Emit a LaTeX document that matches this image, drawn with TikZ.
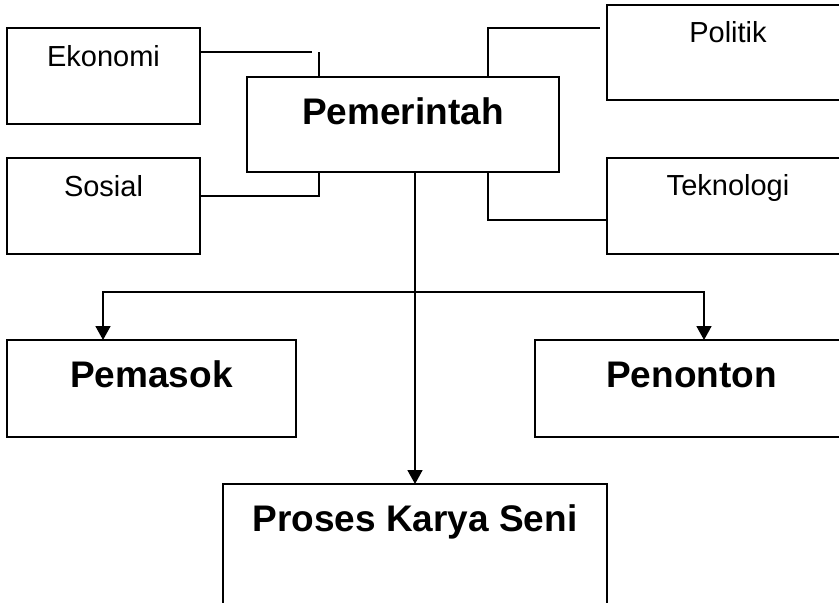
\documentclass[tikz,border=0pt]{standalone}
\usepackage{fontspec}
\setmainfont{Liberation Sans}
\usetikzlibrary{arrows.meta}
\begin{document}
\begin{tikzpicture}[x=1pt,y=-1pt,
  box/.style={draw=black,line width=1.8pt,rectangle,inner sep=0pt,outer sep=0pt,anchor=north west},
  smalltxt/.style={font=\fontsize{29}{34}\selectfont,anchor=base,inner sep=0pt},
  bigtxt/.style={font=\fontsize{37}{44}\selectfont\bfseries,anchor=base,inner sep=0pt},
  link/.style={draw=black,line width=1.8pt},
  arr/.style={link,-{Triangle[width=15pt,length=14pt]}},
  arrboth/.style={link,{Triangle[width=15pt,length=14pt]}-{Triangle[width=15pt,length=14pt]}}]
  \useasboundingbox (0,0) rectangle (839,603);

  % boxes
  \node[box,minimum width=193pt,minimum height=96pt] (eko) at (7,28) {};
  \node[box,minimum width=193pt,minimum height=96pt] (sos) at (7,158) {};
  \node[box,minimum width=312pt,minimum height=95pt] (pem) at (247,77) {};
  \node[box,minimum width=242pt,minimum height=95pt] (pol) at (607,5) {};
  \node[box,minimum width=242pt,minimum height=96pt] (tek) at (607,158) {};
  \node[box,minimum width=289pt,minimum height=97pt] (pmsk) at (7,340) {};
  \node[box,minimum width=313pt,minimum height=97pt] (pen) at (535,340) {};
  \node[box,minimum width=384pt,minimum height=140pt] (pro) at (223,484) {};

  % labels
  \node[smalltxt] (ekoT) at ([yshift=-38pt]eko.north) {Ekonomi};
  \node[smalltxt] (sosT) at ([yshift=-38pt]sos.north) {Sosial};
  \node[smalltxt] (polT) at ([yshift=-37pt]pol.north) {Politik};
  \node[smalltxt] (tekT) at ([yshift=-37pt]tek.north) {Teknologi};
  \node[bigtxt] (pemT) at ([yshift=-47pt]pem.north) {Pemerintah};
  \node[bigtxt] (pmskT) at ([yshift=-47pt]pmsk.north) {Pemasok};
  \node[bigtxt] (penT) at ([yshift=-47pt]pen.north) {Penonton};
  \node[bigtxt] (proT) at ([yshift=-47pt]pro.north) {Proses Karya Seni};

  % connector points
  \coordinate (ekoEnd) at (312,52);
  \coordinate (eTick) at (319,52);
  \coordinate (sCorner) at (319,196);
  \coordinate (pCorner) at (488,28);
  \coordinate (pEnd) at (600,28);
  \coordinate (tCorner) at (488,220);
  \coordinate (bL) at (103,292);
  \coordinate (bR) at (704,292);

  % side factors
  \draw[link] (eko.east |- ekoEnd) -- (ekoEnd);
  \draw[link] (eTick) -- (pem.north -| eTick);
  \draw[link] (sos.east |- sCorner) -- (sCorner) -- (pem.south -| sCorner);
  \draw[link] (pem.north -| pCorner) -- (pCorner) -- (pEnd);
  \draw[link] (pem.south -| tCorner) -- (tCorner) -- (tek.west |- tCorner);

  % flow downward
  \draw[arr] (pem.south -| pro.north) -- (pro.north);
  \draw[arrboth] (pmsk.north -| bL) -- (bL) -- (bR) -- (pen.north -| bR);
\end{tikzpicture}
\end{document}
